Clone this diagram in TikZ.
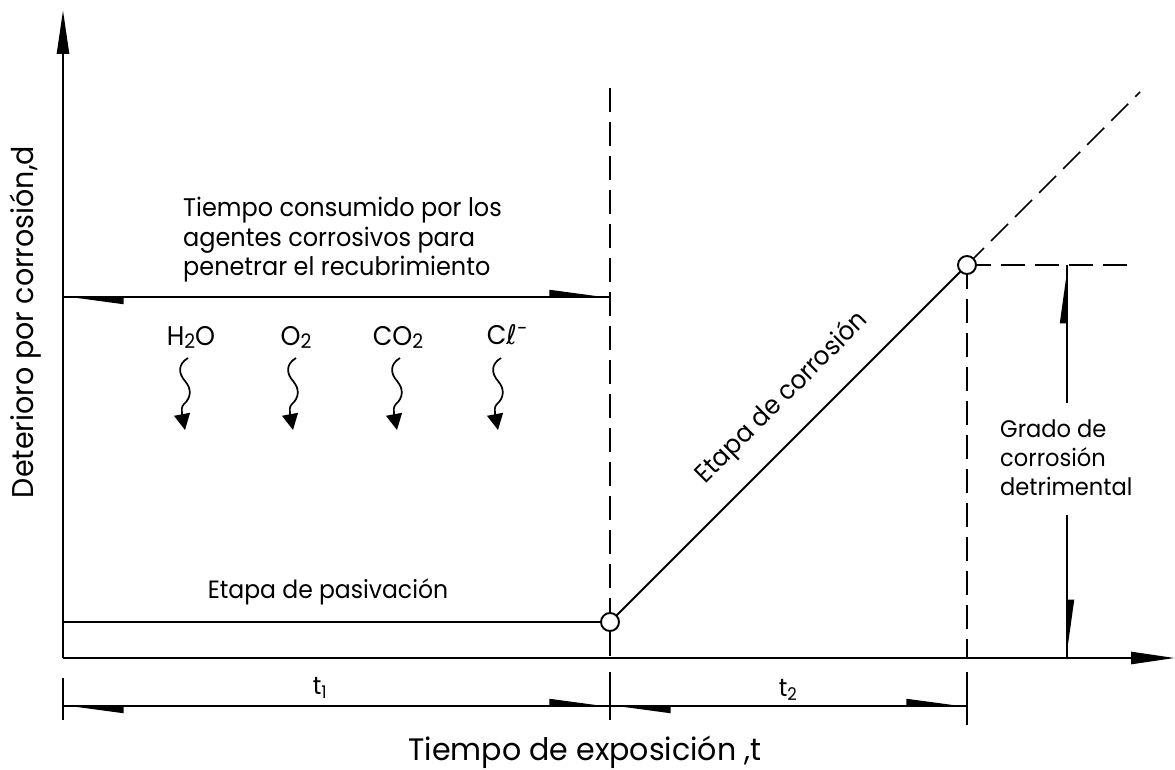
\documentclass[tikz,border=0pt]{standalone}
\usepackage{fontspec}
\setmainfont{Poppins}[FakeStretch=0.94]
\newfontfamily\labfont{Poppins}[FakeStretch=0.95]
\newfontfamily\xlabfont{Poppins}[FakeStretch=0.97]
\newfontfamily\dv{DejaVu Sans}[FakeStretch=0.94]
\usetikzlibrary{arrows.meta}
\begin{document}
\begin{tikzpicture}[x=1pt,y=-1pt,
  ln/.style={line width=1.9pt},
  axisline/.style={line width=2.6pt, -{Triangle[length=44pt,width=12pt]}},
  wedges/.style={line width=1.7pt, {Triangle[length=54pt,width=14pt,left]}-{Triangle[length=54pt,width=14pt,left]}},
  wedgeend/.style={line width=1.7pt, -{Triangle[length=52pt,width=14pt,left]}},
  dsh/.style={line width=1.7pt, dash pattern=on 24pt off 10pt},
  tick/.style={line width=1.7pt},
  pt/.style={circle, draw, line width=1.9pt, fill=white, minimum size=18pt, inner sep=0pt},
  lbl/.style={font=\fontsize{25}{30}\selectfont, inner sep=0pt},
  mol/.style={font=\fontsize{27}{30}\selectfont, inner sep=0pt},
  big/.style={font=\labfont\fontsize{30}{32}\selectfont, inner sep=0pt},
  bigx/.style={font=\xlabfont\fontsize{31}{32}\selectfont, inner sep=0pt},
  wave/.style={line width=1.7pt, -{Triangle[length=16pt,width=16pt]}}
]
\useasboundingbox (0,0) rectangle (1175,770);
% axes
\coordinate (O) at (63,658);
\coordinate (Yt) at (63,10);
\coordinate (Xt) at (1175,658);
\draw[axisline] (O) -- (Yt);
\draw[axisline] (O) -- (Xt);
% key points
\coordinate (Pa) at (63,622);
\coordinate (V1t) at (610,88);
\coordinate (V1b) at (610,658);
\coordinate (V2b) at (967,658);
\coordinate (Ext) at (1140,92);
\coordinate (Hd) at (1135,265);
\draw[dsh] (V1t) -- (V1b);
\draw[dsh] (967,265) -- (V2b);
\draw[ln] (Pa) -- (610,622);
\draw[ln] (610,622) -- (967,265);
\draw[dsh] (967,265) -- (Ext);
\draw[dsh] (967,265) -- (Hd);
\node[pt] (P1) at (610,622) {};
\node[pt] (P2) at (967,265) {};
% ticks
\coordinate (K0a) at (63,678); \coordinate (K0b) at (63,720);
\coordinate (K1a) at (610,672); \coordinate (K1b) at (610,720);
\coordinate (K2a) at (967,672); \coordinate (K2b) at (967,725);
\draw[tick] (K0a) -- (K0b);
\draw[tick] (K1a) -- (K1b);
\draw[tick] (K2a) -- (K2b);
% dimension lines
\coordinate (D0) at (63,706); \coordinate (D1) at (610,706); \coordinate (D2) at (967,706);
\draw[tick] (D0) -- (D2);
\draw[wedges] (D0) -- (D1);
\draw[wedges] (D1) -- (D2);
\coordinate (U0) at (63,297); \coordinate (U1) at (610,297);
\draw[tick] (U0) -- (U1);
\draw[wedges] (U0) -- (U1);
% vertical dimension
\coordinate (G1) at (1067,403); \coordinate (G2) at (1067,265);
\coordinate (G3) at (1067,515); \coordinate (G4) at (1067,658);
\draw[tick] (G1) -- (G2);
\draw[tick] (G3) -- (G4);
\draw[wedgeend] (G1) -- (G2);
\draw[wedgeend] (G3) -- (G4);
% labels
\node[lbl] (t1) at (320,688) {t\textsubscript{1}};
\node[lbl] (t2) at (788,690) {t\textsubscript{2}};
\node[bigx, anchor=base] (xl) at (585,760) {Tiempo de exposición ,t};
\node[big, rotate=90] (yl) at (26,322) {Deterioro por corrosión,d};
\node[lbl, anchor=west, align=left, font=\fontsize{25.5}{29.5}\selectfont] (blk) at (183,240) {Tiempo consumido por los\\agentes corrosivos para\\penetrar el recubrimiento};
\node[lbl, anchor=base] (pas) at (328,598) {Etapa de pasivación};
\node[lbl, rotate=45, anchor=south, font=\fontsize{26}{30}\selectfont] (cor) at (792,408) {Etapa de corrosión};
\node[lbl, anchor=west, align=left, font=\fontsize{24}{29}\selectfont] (gr) at (1000,458) {Grado de\\corrosión\\detrimental};
% molecules
\newcommand{\low}[1]{\raisebox{-3pt}{\fontsize{20}{20}\selectfont #1}}
\node[mol] (m1) at (191,337) {H\low{2}O};
\node[mol] (m2) at (296,337) {O\low{2}};
\node[mol] (m3) at (398,337) {CO\low{2}};
\node[mol] (m4) at (507,335) {C{\dv ℓ}\raisebox{9pt}{\fontsize{20}{20}\selectfont −}};
\foreach \x [count=\i] in {185,293,397,498}{
  \coordinate (w\i) at (\x,430);
  \draw[wave] (\x+3,358) .. controls (\x-7,364) and (\x-7,373) .. (\x,381)
     .. controls (\x+7,389) and (\x+6,398) .. (\x-1,404)
     .. controls (\x-4,407) and (\x-3,410) .. (\x-3,414) -- (w\i);
}
\end{tikzpicture}
\end{document}
